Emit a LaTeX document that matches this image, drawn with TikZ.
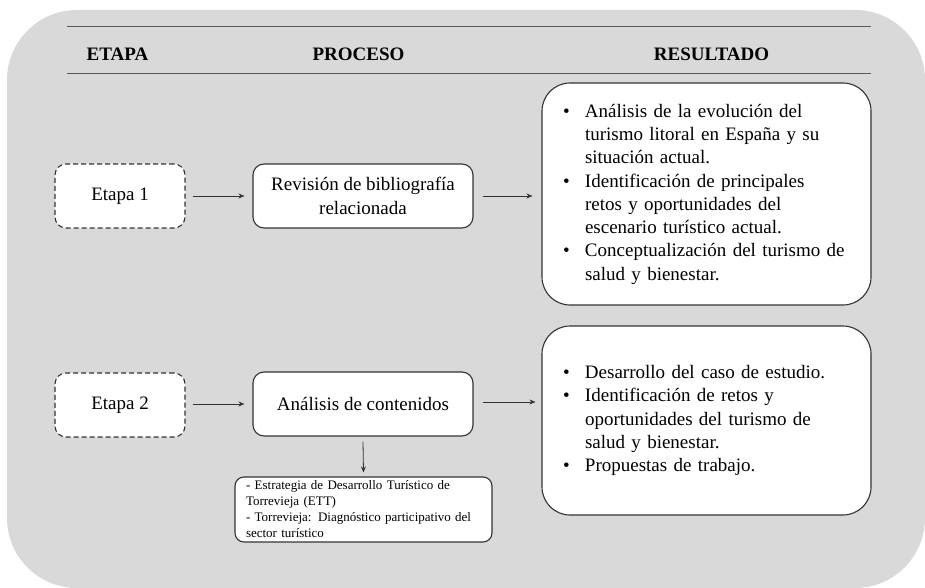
\documentclass[tikz,border=0pt]{standalone}
\usepackage{fontspec}
\setmainfont{Liberation Serif}
\usetikzlibrary{arrows.meta}
\definecolor{bggray}{HTML}{D9D9D9}
\definecolor{linegray}{HTML}{5A5A5A}
\definecolor{boxline}{HTML}{333333}
\tikzset{
  hdr/.style={font=\fontsize{19}{22}\selectfont\bfseries, inner sep=0pt},
  etapabox/.style={draw=boxline, line width=1.1pt, dash pattern=on 5pt off 3pt, fill=white, rounded corners=11pt,
    minimum width=130pt, minimum height=64pt, font=\fontsize{19}{23.3}\selectfont, inner sep=0pt},
  procbox/.style={draw=boxline, line width=1.1pt, fill=white, rounded corners=11pt,
    minimum width=220pt, minimum height=64pt, font=\fontsize{19}{23.3}\selectfont, align=center, inner sep=0pt},
  resbox/.style={draw=boxline, line width=1.1pt, fill=white, rounded corners=28pt,
    text width=287pt, inner xsep=21pt, inner ysep=0pt, align=left, font=\fontsize{19}{23.3}\selectfont},
  smallbox/.style={draw=boxline, line width=1.1pt, fill=white, rounded corners=9pt,
    minimum width=257pt, minimum height=65pt, text width=235pt, inner xsep=11pt, inner ysep=0pt, align=left,
    font=\fontsize{13}{16}\selectfont},
  arr/.style={draw=black!80, line width=0.8pt, -{Stealth[length=6pt,width=5pt]}},
  hline/.style={draw=linegray, line width=1pt}
}
\newcommand{\bul}{\makebox[22pt][l]{\textbullet}}
\begin{document}
\begin{tikzpicture}[x=1pt,y=-1pt]
\useasboundingbox (0,0) rectangle (925,588);
\fill[bggray, rounded corners=70pt] (7,10) rectangle (925,588);
\coordinate (l1a) at (67,27);
\coordinate (l1b) at (871,27);
\coordinate (l2a) at (67,74);
\coordinate (l2b) at (871,74);
\draw[hline] (l1a) -- (l1b);
\draw[hline] (l2a) -- (l2b);
\node[hdr] (h1) at (117.5,54) {ETAPA};
\node[hdr] (h2) at (358.5,54) {PROCESO};
\node[hdr] (h3) at (711.5,54) {RESULTADO};

\node[etapabox] (e1) at (120,196) {Etapa 1};
\node[procbox] (p1) at (363,196) {Revisión de bibliografía\\relacionada};
\node[resbox, minimum height=222pt] (r1) at (706.5,194) {%
\begin{tabular}{@{}l@{}l@{}}
\bul & Análisis de la evolución del\\
 & turismo litoral en España y su\\
 & situación actual.\\
\bul & Identificación de principales\\
 & retos y oportunidades del\\
 & escenario turístico actual.\\
\bul & Conceptualización del turismo de\\
 & salud y bienestar.
\end{tabular}};

\node[etapabox] (e2) at (120,405) {Etapa 2};
\node[procbox] (p2) at (363,404) {Análisis de contenidos};
\node[resbox, minimum height=189pt] (r2) at (706.5,420.5) {%
\begin{tabular}{@{}l@{}l@{}}
\bul & Desarrollo del caso de estudio.\\
\bul & Identificación de retos y\\
 & oportunidades del turismo de\\
 & salud y bienestar.\\
\bul & Propuestas de trabajo.
\end{tabular}};

\node[smallbox] (s) at (363.5,509.5) {- Estrategia de Desarrollo Turístico de\\Torrevieja (ETT)\\- Torrevieja: Diagnóstico participativo del\\sector turístico};

\draw[arr] ([xshift=7pt]e1.east) -- ([xshift=-8pt]p1.west);
\draw[arr] ([xshift=9pt]p1.east) -- ([xshift=-9pt]p1.east -| r1.west);
\draw[arr] ([xshift=7pt,yshift=1pt]e2.east) -- ([xshift=-8pt]p2.west);
\draw[arr] ([xshift=9pt,yshift=2pt]p2.east) -- ([xshift=-6pt,yshift=2pt]p2.east -| r2.west);
\draw[arr] ([yshift=-5pt]p2.south) -- ([yshift=4pt]s.north);
\end{tikzpicture}
\end{document}
